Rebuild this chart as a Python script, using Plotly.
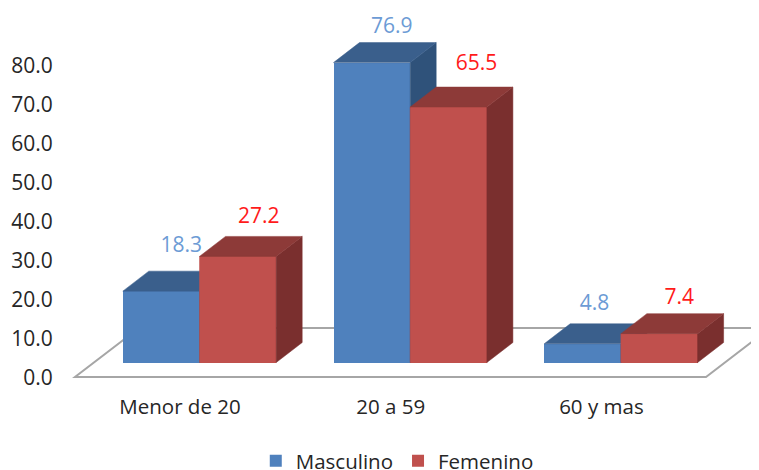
import plotly.graph_objects as go

categories = ["Menor de 20", "20 a 59", "60 y mas"]
masculino = [18.3, 76.9, 4.8]
femenino = [27.2, 65.5, 7.4]
y_ticks = [0, 10, 20, 30, 40, 50, 60, 70, 80]

# pixel scale of the plot (the page body adds an 8 px margin)
W, H = 751, 462
PX_X = 210.7      # px per category
PX_Y = 3.9        # px per value unit
LEFT, BOTTOM = 62, 372
X0, Y0 = 172.0, 368.0   # pixel of category 0 / value 0

BAR_W = 76.7 / PX_X
BASE = 13.5 / PX_Y
DX = 26 / PX_X
DY = 20 / PX_Y
SHIFT = 19.5 / PX_X

BLUE = ("#4F81BD", "#3A5F8C", "#2F527A", "#6C9BD5")
RED = ("#C0504D", "#8D3A38", "#7A2F2E", "#FF1A1A")
label_dx = [[20, 21], [20, 28], [12, 20]]
label_dy = [[44.5, 38.5], [34.5, 42.5], [39.5, 34.5]]

fig = go.Figure()
idx = list(range(len(categories)))

# front faces through the bar scale
for name, vals, col, off in (("Masculino", masculino, BLUE, -BAR_W), ("Femenino", femenino, RED, 0)):
    fig.add_trace(go.Bar(
        x=[i + SHIFT + off + BAR_W / 2 for i in idx], y=vals, base=[BASE] * len(vals),
        width=BAR_W, name=name, marker=dict(color=col[0], line=dict(width=0)),
        hoverinfo="skip"))


def poly(xs, ys, color):
    fig.add_trace(go.Scatter(x=xs + xs[:1], y=ys + ys[:1], mode="lines", fill="toself",
                             fillcolor=color, line=dict(color=color, width=0.5),
                             showlegend=False, hoverinfo="skip"))


for i in idx:
    xm = i + SHIFT
    # blue block
    v = masculino[i]
    l, r, t = xm - BAR_W, xm, BASE + v
    poly([r, r + DX, r + DX, r], [BASE, BASE + DY, t + DY, t], BLUE[2])
    poly([l, r, r + DX, l + DX], [t, t, t + DY, t + DY], BLUE[1])
    # red block, in front of the blue side
    v = femenino[i]
    l, r, t = xm, xm + BAR_W, BASE + v
    poly([l, r, r, l], [BASE, BASE, t, t], RED[0])
    poly([r, r + DX, r + DX, r], [BASE, BASE + DY, t + DY, t], RED[2])
    poly([l, r, r + DX, l + DX], [t, t, t + DY, t + DY], RED[1])

# value labels
for j, (vals, col, off) in enumerate(((masculino, BLUE, -BAR_W / 2), (femenino, RED, BAR_W / 2))):
    fig.add_trace(go.Scatter(
        x=[i + SHIFT + off + label_dx[i][j] / PX_X for i in idx],
        y=[BASE + vals[i] + label_dy[i][j] / PX_Y for i in idx],
        mode="text", text=[f"{v:.1f}" for v in vals], textposition="middle center",
        textfont=dict(size=21, color=col[3], family="Open Sans"),
        showlegend=False, hoverinfo="skip"))

# floor
fx = [-105 / PX_X, 526 / PX_X, 590 / PX_X, -41 / PX_X]
fy = [-1 / PX_Y, -1 / PX_Y, 48 / PX_Y, 48 / PX_Y]
path = "M " + " L ".join(f"{a},{b}" for a, b in zip(fx, fy)) + " Z"

fig.update_layout(
    width=W, height=H, margin=dict(l=LEFT, r=0, t=0, b=0, autoexpand=False),
    autosize=False, paper_bgcolor="white", plot_bgcolor="white",
    barmode="overlay", bargap=0,
    font=dict(family="Open Sans", size=20, color="#262626"),
    shapes=[dict(type="path", path=path, xref="x", yref="y", layer="below",
                 fillcolor="white", line=dict(color="#A6A6A6", width=2))],
    legend=dict(orientation="h", x=0.475, y=0.0195, xanchor="center", yanchor="middle",
                font=dict(size=20.5, color="#262626"), traceorder="normal",
                itemwidth=30, bgcolor="rgba(0,0,0,0)"),
    xaxis=dict(range=[(LEFT - X0) / PX_X, (W - X0) / PX_X], tickvals=idx, ticktext=categories,
               showgrid=False, zeroline=False, showline=False, ticks="outside", ticklen=8,
               tickcolor="rgba(0,0,0,0)", tickfont=dict(size=20.5), automargin=False),
    yaxis=dict(domain=[1 - BOTTOM / H, 1], range=[(Y0 - BOTTOM) / PX_Y, Y0 / PX_Y], tickvals=y_ticks,
               ticktext=[f"{v:.1f}" for v in y_ticks], ticklabelshift=2,
               showgrid=False, zeroline=False, showline=False, ticks="outside", ticklen=12,
               tickcolor="rgba(0,0,0,0)", tickfont=dict(size=21), automargin=False),
)

fig.write_html("out.html")
